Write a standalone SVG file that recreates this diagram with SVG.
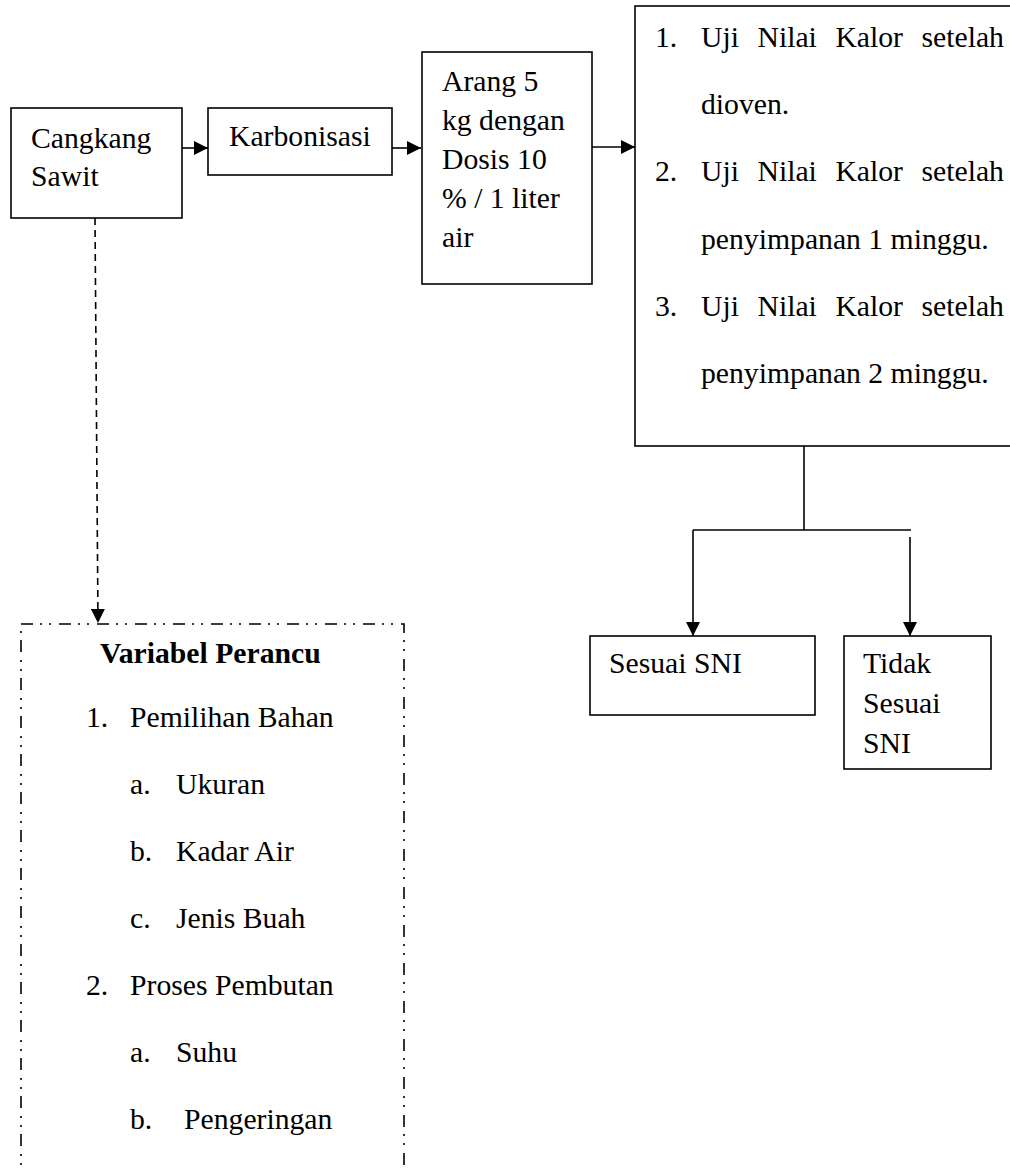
<svg xmlns="http://www.w3.org/2000/svg" width="1010" height="1168" viewBox="0 0 1010 1168">
<defs>
<style>
.box{fill:#fff;stroke:#000;stroke-width:1.6}
.t{font-size:29.7px;fill:#000}
.b{font-weight:bold}
.ln{fill:none;stroke:#000;stroke-width:1.6}
.dash{fill:none;stroke:#000;stroke-width:1.6;stroke-dasharray:7 5}
.dd{fill:none;stroke:#000;stroke-width:1.6;stroke-dasharray:12 7 2 7 2 8}
</style>
<marker id="ah" markerUnits="userSpaceOnUse" markerWidth="14" markerHeight="14" viewBox="0 0 14 14" refX="14" refY="7" orient="auto">
<path d="M0,0 L14,7 L0,14 Z" fill="#000"/>
</marker>
</defs>
<rect width="1010" height="1168" fill="#fff"/>

<g id="connectors">
<line class="ln" x1="182" y1="148" x2="208" y2="148" marker-end="url(#ah)"/>
<line class="ln" x1="392" y1="148" x2="421" y2="148" marker-end="url(#ah)"/>
<line class="ln" x1="591" y1="147" x2="635" y2="147" marker-end="url(#ah)"/>
<line class="dash" x1="95" y1="218" x2="98" y2="623" marker-end="url(#ah)"/>
<line class="ln" x1="804" y1="446" x2="804" y2="530"/>
<line class="ln" x1="693" y1="530" x2="911" y2="530"/>
<line class="ln" x1="693" y1="530" x2="693" y2="636" marker-end="url(#ah)"/>
<line class="ln" x1="910" y1="537" x2="910" y2="636" marker-end="url(#ah)"/>
</g>

<g font-family="'Liberation Serif', 'Times New Roman', 'DejaVu Serif', serif">
<g id="cangkang">
<rect class="box" x="11" y="108" width="171" height="110"/>
<text class="t" x="31" y="148">Cangkang</text>
<text class="t" x="31" y="186">Sawit</text>
</g>

<g id="karbonisasi">
<rect class="box" x="208" y="108" width="184" height="67"/>
<text class="t" x="229" y="146">Karbonisasi</text>
</g>

<g id="arang">
<rect class="box" x="422" y="52" width="170" height="232"/>
<text class="t" x="442" y="91">Arang 5</text>
<text class="t" x="442" y="130">kg dengan</text>
<text class="t" x="442" y="169">Dosis 10</text>
<text class="t" x="442" y="208">% / 1 liter</text>
<text class="t" x="442" y="247">air</text>
</g>

<g id="uji">
<rect class="box" x="635" y="6" width="390" height="440"/>
<text class="t" y="47"><tspan x="655">1.</tspan><tspan x="701">Uji</tspan><tspan x="757.5">Nilai</tspan><tspan x="835.4">Kalor</tspan><tspan x="921.5">setelah</tspan></text>
<text class="t" x="701" y="114">dioven.</text>
<text class="t" y="181"><tspan x="655">2.</tspan><tspan x="701">Uji</tspan><tspan x="757.5">Nilai</tspan><tspan x="835.4">Kalor</tspan><tspan x="921.5">setelah</tspan></text>
<text class="t" x="701" y="249">penyimpanan 1 minggu.</text>
<text class="t" y="316"><tspan x="655">3.</tspan><tspan x="701">Uji</tspan><tspan x="757.5">Nilai</tspan><tspan x="835.4">Kalor</tspan><tspan x="921.5">setelah</tspan></text>
<text class="t" x="701" y="383">penyimpanan 2 minggu.</text>
</g>

<g id="sesuai">
<rect class="box" x="590" y="636" width="225" height="79"/>
<text class="t" x="609" y="673">Sesuai SNI</text>
</g>

<g id="tidak-sesuai">
<rect class="box" x="844" y="636" width="147" height="133"/>
<text class="t" x="863" y="673">Tidak</text>
<text class="t" x="863" y="713">Sesuai</text>
<text class="t" x="863" y="753">SNI</text>
</g>

<g id="variabel-perancu">
<rect class="dd" x="21" y="624" width="383" height="600"/>
<text class="t b" x="100" y="663">Variabel Perancu</text>
<text class="t" y="727"><tspan x="86">1.</tspan><tspan x="130">Pemilihan Bahan</tspan></text>
<text class="t" y="794"><tspan x="130">a.</tspan><tspan x="176">Ukuran</tspan></text>
<text class="t" y="861"><tspan x="130">b.</tspan><tspan x="176">Kadar Air</tspan></text>
<text class="t" y="928"><tspan x="130">c.</tspan><tspan x="176">Jenis Buah</tspan></text>
<text class="t" y="995"><tspan x="86">2.</tspan><tspan x="130">Proses Pembutan</tspan></text>
<text class="t" y="1062"><tspan x="130">a.</tspan><tspan x="176">Suhu</tspan></text>
<text class="t" y="1129"><tspan x="130">b.</tspan><tspan x="184">Pengeringan</tspan></text>
</g>
</g>
</svg>
